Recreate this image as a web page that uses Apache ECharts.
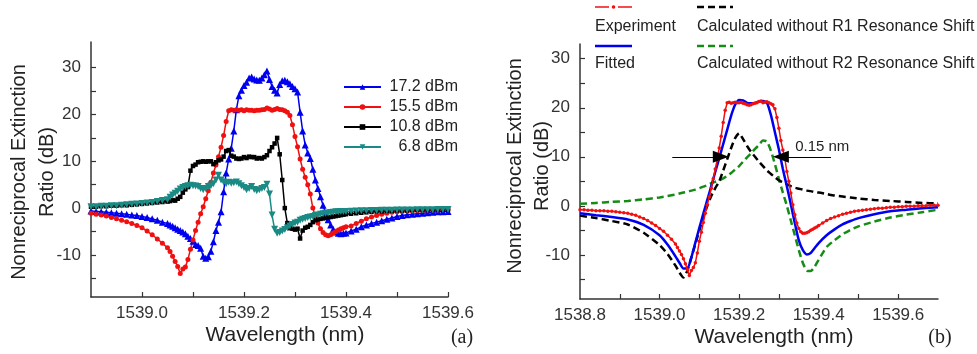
<!DOCTYPE html>
<html>
<head>
<meta charset="utf-8">
<script src="https://cdn.jsdelivr.net/npm/echarts@6/dist/echarts.min.js"></script>
<style>
  html, body { margin: 0; padding: 0; background: #fff; }
  #chart { width: 977px; height: 354px; }
</style>
</head>
<body>
<div id="chart"></div>
<script>
// ---- panel (a): measured ratio for four pump powers ----
const wlA = [
  1538.90, 1538.91, 1538.92, 1538.93, 1538.94, 1538.95, 1538.96, 1538.97, 1538.98, 1538.99,
  1539.00, 1539.01, 1539.02, 1539.03, 1539.04,
  1539.050, 1539.055, 1539.060, 1539.065, 1539.070, 1539.075, 1539.080, 1539.085, 1539.090, 1539.095,
  1539.100, 1539.105, 1539.110, 1539.115, 1539.120, 1539.125, 1539.130, 1539.135, 1539.140, 1539.145,
  1539.150, 1539.155, 1539.160, 1539.165, 1539.170, 1539.175, 1539.180, 1539.185, 1539.190, 1539.195,
  1539.200, 1539.205, 1539.210, 1539.215, 1539.220, 1539.225, 1539.230, 1539.235, 1539.240, 1539.245,
  1539.250, 1539.255, 1539.260, 1539.265, 1539.270, 1539.275, 1539.280, 1539.285, 1539.290, 1539.295,
  1539.300, 1539.305, 1539.310, 1539.315, 1539.320, 1539.325, 1539.330, 1539.335, 1539.340, 1539.345,
  1539.350, 1539.355, 1539.360, 1539.365, 1539.370, 1539.375, 1539.380, 1539.385, 1539.390, 1539.395,
  1539.400,
  1539.41, 1539.42, 1539.43, 1539.44, 1539.45, 1539.46, 1539.47, 1539.48, 1539.49, 1539.50,
  1539.51, 1539.52, 1539.53, 1539.54, 1539.55, 1539.56, 1539.57, 1539.58, 1539.59, 1539.60
];
const p172 = [
  -0.6, -0.7, -0.8, -0.9, -1.0, -1.1, -1.2, -1.3, -1.5, -1.6, -1.8, -2.0, -2.3, -2.6, -3.0,
  -3.3, -3.6, -3.9, -4.2, -4.5, -4.8, -5.1, -5.5, -6.0, -6.5,
  -7.1, -7.8, -8.0, -8.6, -10.3, -10.7, -10.4, -9.2, -7.2, -4.8,
  -3.0, -0.8, 3.5, 7.5, 10.5, 12.8, 16.5, 21.0, 24.0, 25.2,
  26.2, 26.9, 27.8, 28.0, 27.6, 27.4, 27.3, 27.8, 28.5, 29.3,
  27.5, 26.0, 25.2, 24.6, 26.4, 27.2, 27.3, 27.0, 26.6, 26.0,
  25.5, 24.8, 20.5, 16.5, 13.5, 11.8, 10.6, 8.3, 6.0, 4.2,
  2.4, 0.6, -1.1, -2.5, -3.6, -4.5, -5.1, -5.4, -5.5, -5.4,
  -5.3,
  -4.9, -4.5, -4.0, -3.6, -3.3, -3.0, -2.7, -2.4, -2.1, -1.8,
  -1.6, -1.4, -1.3, -1.2, -1.1, -1.0, -0.9, -0.8, -0.8, -0.7
];
const p155 = [
  -1.1, -1.3, -1.5, -1.7, -2.0, -2.3, -2.6, -2.9, -3.3, -3.7, -4.2, -4.9, -5.7, -6.6, -7.5,
  -8.5, -9.3, -10.3, -11.4, -12.5, -14.0, -13.0, -12.6, -11.0, -8.8,
  -6.8, -4.8, -3.0, -1.2, 0.3, 2.0, 3.7, 5.5, 7.5, 9.2,
  11.0, 13.0, 15.5, 18.5, 20.8, 21.0, 20.9, 21.0, 20.9, 21.0,
  20.8, 21.0, 20.9, 20.9, 20.8, 20.9, 20.9, 21.0, 21.1, 21.4,
  21.2, 20.9, 21.1, 21.3, 21.1, 21.0, 20.8, 20.5, 19.8, 17.8,
  15.3, 13.1, 10.5, 8.3, 6.6, 5.0, 3.0, 0.0, -1.8, -3.2,
  -4.4, -5.2, -5.7, -5.9, -5.7, -5.3, -5.0, -4.7, -4.4, -4.2,
  -4.0,
  -3.8, -3.3, -2.8, -2.3, -1.9, -1.6, -1.3, -1.1, -0.9, -0.8,
  -0.7, -0.6, -0.6, -0.5, -0.5, -0.4, -0.4, -0.4, -0.3, -0.3
];
const p108 = [
  0.3, 0.3, 0.4, 0.4, 0.5, 0.5, 0.6, 0.6, 0.7, 0.8, 0.9, 1.0, 1.1, 1.2, 1.3,
  1.4, 1.5, 1.7, 1.6, 2.0, 2.4, 3.3, 4.0, 4.5, 8.0,
  9.0, 9.3, 9.8, 9.9, 10.0, 9.9, 10.0, 10.0, 9.4, 9.8,
  10.2, 10.4, 11.0, 12.2, 12.4, 11.2, 11.0, 10.6, 10.5, 10.6,
  10.9, 10.7, 11.0, 10.9, 10.9, 10.6, 10.7, 10.6, 10.9, 11.3,
  12.2, 13.0, 13.8, 15.0, 11.5, 6.0, 0.0, -3.2, -4.3, -4.4,
  -4.6, -4.4, -6.5, -4.8, -4.2, -4.0, -3.6, -3.0, -2.6, -2.4,
  -2.3, -2.2, -2.1, -2.0, -1.9, -1.8, -1.7, -1.6, -1.5, -1.4,
  -1.3,
  -1.2, -1.1, -1.0, -0.9, -0.8, -0.7, -0.7, -0.6, -0.6, -0.5,
  -0.5, -0.5, -0.4, -0.4, -0.4, -0.4, -0.3, -0.3, -0.3, -0.3
];
const p68 = [
  0.3, 0.3, 0.4, 0.4, 0.5, 0.5, 0.6, 0.7, 0.8, 0.9, 1.0, 1.1, 1.2, 1.4, 1.6,
  1.8, 2.3, 2.8, 3.2, 3.6, 4.1, 4.4, 4.6, 4.8, 4.9,
  4.8, 4.7, 4.6, 4.2, 3.9, 4.2, 4.6, 4.8, 5.2, 6.0,
  7.0, 6.0, 5.6, 5.2, 5.5, 5.3, 5.4, 5.6, 5.2, 4.8,
  4.4, 3.9, 4.2, 4.6, 4.0, 3.7, 3.9, 4.2, 4.4, 5.1,
  3.0, -1.5, -4.5, -5.4, -5.2, -4.9, -4.6, -4.2, -3.8, -3.5,
  -3.2, -3.0, -2.6, -2.4, -2.2, -2.0, -1.9, -1.8, -1.6, -1.5,
  -1.3, -1.2, -1.1, -1.05, -0.95, -0.9, -0.8, -0.78, -0.75, -0.72,
  -0.7,
  -0.65, -0.6, -0.58, -0.55, -0.52, -0.5, -0.48, -0.46, -0.44, -0.42,
  -0.4, -0.4, -0.38, -0.36, -0.35, -0.34, -0.33, -0.32, -0.31, -0.3
];

// ---- panel (b): experiment vs. fitted / calculated ----
const wlB = [
  1538.80, 1538.81, 1538.82, 1538.83, 1538.84, 1538.85, 1538.86, 1538.87, 1538.88, 1538.89,
  1538.90, 1538.91, 1538.92, 1538.93, 1538.94, 1538.95, 1538.96, 1538.97, 1538.98, 1538.99,
  1539.00, 1539.01, 1539.02, 1539.03, 1539.04,
  1539.045, 1539.050, 1539.055, 1539.060, 1539.065, 1539.070, 1539.075, 1539.080, 1539.085, 1539.090, 1539.095,
  1539.100, 1539.105, 1539.110, 1539.115, 1539.120, 1539.125, 1539.130, 1539.135, 1539.140, 1539.145,
  1539.150, 1539.155, 1539.160, 1539.165, 1539.170, 1539.175, 1539.180, 1539.185, 1539.190, 1539.195,
  1539.200, 1539.205, 1539.210, 1539.215, 1539.220, 1539.225, 1539.230, 1539.235, 1539.240, 1539.245,
  1539.250, 1539.255, 1539.260, 1539.265, 1539.270, 1539.275, 1539.280, 1539.285, 1539.290, 1539.295,
  1539.300, 1539.305, 1539.310, 1539.315, 1539.320, 1539.325, 1539.330, 1539.335, 1539.340, 1539.345,
  1539.350, 1539.355, 1539.360, 1539.365, 1539.370, 1539.375, 1539.380, 1539.385, 1539.390, 1539.395,
  1539.400,
  1539.41, 1539.42, 1539.43, 1539.44, 1539.45, 1539.46, 1539.47, 1539.48, 1539.49, 1539.50,
  1539.51, 1539.52, 1539.53, 1539.54, 1539.55, 1539.56, 1539.57, 1539.58, 1539.59, 1539.60,
  1539.61, 1539.62, 1539.63, 1539.64, 1539.65, 1539.66, 1539.67, 1539.68, 1539.69, 1539.70
];
const experiment = [
  -0.8, -0.8, -0.9, -0.9, -1.0, -1.0, -1.0, -1.1, -1.1, -1.2,
  -1.3, -1.4, -1.5, -1.7, -1.9, -2.3, -2.6, -3.0, -3.5, -4.0,
  -4.6, -5.2, -6.0, -6.8, -7.8,
  -8.5, -9.2, -9.9, -10.8, -11.8, -13.0, -14.2, -13.2, -12.6, -11.6, -9.6,
  -7.2, -5.4, -3.4, -1.5, 0.2, 1.8, 3.6, 5.5, 7.5, 9.4,
  11.8, 14.2, 17.0, 19.5, 21.0, 21.1, 20.9, 21.0, 21.1, 21.0,
  21.0, 21.1, 20.9, 20.8, 20.6, 20.5, 20.6, 20.8, 20.9, 21.0,
  21.3, 21.4, 21.0, 21.1, 21.2, 21.0, 20.8, 20.6, 19.8, 18.0,
  15.8, 13.3, 11.4, 9.6, 7.0, 5.0, 2.6, 0.2, -1.8, -3.5,
  -4.6, -5.3, -5.6, -5.6, -5.5, -5.3, -5.0, -4.8, -4.5, -4.3,
  -4.0,
  -3.5, -3.0, -2.6, -2.3, -2.0, -1.7, -1.5, -1.3, -1.1, -1.0,
  -0.9, -0.8, -0.7, -0.6, -0.5, -0.5, -0.4, -0.3, -0.3, -0.2,
  -0.2, -0.1, -0.1, -0.1, 0.0, 0.0, 0.0, 0.1, 0.1, 0.1
];

const wlCalc = [
  1538.80, 1538.84, 1538.88, 1538.92, 1538.96, 1539.00, 1539.02, 1539.04,
  1539.05, 1539.06, 1539.07, 1539.08, 1539.09, 1539.10, 1539.11, 1539.12, 1539.13, 1539.14,
  1539.15, 1539.16, 1539.17, 1539.18, 1539.19, 1539.20, 1539.21, 1539.22, 1539.23, 1539.24,
  1539.25, 1539.26, 1539.27, 1539.28, 1539.29, 1539.30, 1539.31, 1539.32, 1539.33, 1539.34,
  1539.35, 1539.36, 1539.37, 1539.38, 1539.39, 1539.40,
  1539.42, 1539.44, 1539.46, 1539.48, 1539.50, 1539.54, 1539.58, 1539.62, 1539.66, 1539.70
];
const fitted = [
  -1.5, -1.9, -2.3, -2.8, -3.9, -6.0, -7.9, -10.3,
  -11.6, -12.8, -12.8, -10.5, -7.5, -4.5, -1.6, 1.2, 4.0, 6.9,
  9.7, 12.6, 15.5, 18.4, 20.6, 21.6, 21.5, 21.0, 20.9, 21.0,
  21.3, 21.4, 21.0, 18.5, 15.0, 11.5, 7.5, 4.0, 0.3, -3.5,
  -7.0, -9.0, -9.9, -9.6, -8.6, -7.6,
  -6.0, -4.8, -3.8, -3.1, -2.5, -1.7, -1.1, -0.8, -0.5, -0.3
];
const noR1 = [
  -2.0, -2.5, -3.1, -3.8, -5.5, -8.0, -9.8, -12.2,
  -13.6, -14.6, -13.2, -10.5, -7.8, -5.0, -2.3, 0.0, 2.0, 3.6,
  5.0, 7.2, 9.5, 11.8, 13.8, 14.8, 13.6, 12.2, 11.0, 10.0,
  9.0, 8.1, 7.2, 6.5, 5.8, 5.2, 4.8, 4.4, 4.0, 3.7,
  3.5, 3.3, 3.1, 3.0, 2.8, 2.7,
  2.4, 2.1, 1.9, 1.7, 1.5, 1.2, 1.0, 0.8, 0.6, 0.5
];
const noR2 = [
  0.4, 0.6, 0.8, 1.0, 1.3, 1.7, 2.0, 2.3,
  2.5, 2.7, 2.9, 3.1, 3.3, 3.6, 3.9, 4.2, 4.6, 4.9,
  5.2, 5.6, 6.1, 6.7, 7.4, 8.1, 9.0, 9.9, 10.7, 11.6,
  12.4, 13.3, 13.1, 11.2, 8.5, 5.5, 2.7, 0.0, -3.0, -6.0,
  -9.0, -11.6, -13.2, -13.3, -12.4, -11.0,
  -8.4, -7.0, -5.8, -4.9, -4.2, -3.2, -2.4, -1.8, -1.3, -0.8
];

// axis ticks and labels
const ticksA = [1539.0, 1539.1, 1539.2, 1539.3, 1539.4, 1539.5, 1539.6];
const labelsA = [1539.0, 1539.2, 1539.4, 1539.6];
const ticksB = [1538.9, 1539.0, 1539.1, 1539.2, 1539.3, 1539.4, 1539.5, 1539.6];
const labelsB = [1538.8, 1539.0, 1539.2, 1539.4, 1539.6];
const yTicks = [-15, -10, -5, 0, 5, 10, 15, 20, 25, 30];
const yLabels = [-10, 0, 10, 20, 30];

// 0.15 nm width arrows (data coordinates)
const arrowLeft = [[1539.032, 10], [1539.154, 10]];
const arrowRight = [[1539.305, 10], [1539.431, 10]];
const widthLabel = [1539.409, 12.0];

const FONT = "'Liberation Sans', Arial, sans-serif";
const SERIF = "'Liberation Serif', 'Times New Roman', serif";
const TXT = '#222';

const pairs = (xs, ys) => xs.map((x, i) => [x, ys[i]]);

function xAxisCfg(grid, min, max, ticks, labels) {
  return {
    gridIndex: grid, type: 'value', min: min, max: max,
    axisLine: { show: true, onZero: false, lineStyle: { color: '#333', width: 1.5 } },
    axisTick: { show: true, inside: true, length: 5, customValues: ticks, lineStyle: { color: '#333', width: 1.2 } },
    axisLabel: { customValues: labels, formatter: v => v.toFixed(1), fontSize: 17, color: '#333', fontFamily: FONT, margin: 8 },
    splitLine: { show: false }
  };
}
function yAxisCfg(grid, min, max) {
  return {
    gridIndex: grid, type: 'value', min: min, max: max,
    axisLine: { show: true, onZero: false, lineStyle: { color: '#333', width: 1.5 } },
    axisTick: { show: true, inside: true, length: 5, customValues: yTicks, lineStyle: { color: '#333', width: 1.2 } },
    axisLabel: { customValues: yLabels, fontSize: 17, color: '#333', fontFamily: FONT, margin: 10 },
    splitLine: { show: false }
  };
}

function text(x, y, str, opts) {
  return Object.assign({
    type: 'text', x: x, y: y,
    style: Object.assign({
      text: str, fill: TXT, font: '20px ' + FONT,
      align: 'center', verticalAlign: 'middle',
      textAlign: 'center', textVerticalAlign: 'middle'
    }, (opts && opts.style) || {})
  }, (opts && opts.el) || {});
}
function line(x1, y1, x2, y2, color, width, dash) {
  return {
    type: 'line', shape: { x1: x1, y1: y1, x2: x2, y2: y2 },
    style: { stroke: color, lineWidth: width, lineDash: dash || null }
  };
}

const chart = echarts.init(document.getElementById('chart'));

const option = {
  animation: false,
  backgroundColor: '#fff',
  grid: [
    { left: 91, top: 42, width: 357, height: 255 },
    { left: 580, top: 44, width: 358, height: 255 }
  ],
  xAxis: [
    xAxisCfg(0, 1538.9, 1539.6, ticksA, labelsA),
    xAxisCfg(1, 1538.8, 1539.7, ticksB, labelsB)
  ],
  yAxis: [
    yAxisCfg(0, -19, 35.5),
    yAxisCfg(1, -19, 33)
  ],
  legend: {
    data: ['17.2 dBm', '15.5 dBm', '10.8 dBm', '6.8 dBm'],
    orient: 'vertical', left: 343, top: 79, padding: 0,
    itemWidth: 37, itemHeight: 7, itemGap: 4,
    formatter: n => '{r|' + n + '}',
    textStyle: {
      fontSize: 16, color: TXT, fontFamily: FONT,
      rich: { r: { width: 72, align: 'right', fontSize: 16, fontFamily: FONT, color: TXT } }
    }
  },
  series: [
    {
      name: '17.2 dBm', type: 'line', xAxisIndex: 0, yAxisIndex: 0,
      data: pairs(wlA, p172), symbol: 'triangle', symbolSize: 7,
      lineStyle: { color: '#0000f0', width: 1.5 }, itemStyle: { color: '#0000f0' }
    },
    {
      name: '15.5 dBm', type: 'line', xAxisIndex: 0, yAxisIndex: 0,
      data: pairs(wlA, p155), symbol: 'circle', symbolSize: 5,
      lineStyle: { color: '#f01010', width: 1.5 }, itemStyle: { color: '#f01010' }
    },
    {
      name: '10.8 dBm', type: 'line', xAxisIndex: 0, yAxisIndex: 0,
      data: pairs(wlA, p108), symbol: 'rect', symbolSize: 4.5,
      lineStyle: { color: '#000', width: 1.5 }, itemStyle: { color: '#000' }
    },
    {
      name: '6.8 dBm', type: 'line', xAxisIndex: 0, yAxisIndex: 0,
      data: pairs(wlA, p68), symbol: 'triangle', symbolRotate: 180, symbolSize: 7,
      lineStyle: { color: '#1b8a84', width: 1.5 }, itemStyle: { color: '#1b8a84' }
    },
    {
      name: 'Calculated without R2 Resonance Shift', type: 'line', xAxisIndex: 1, yAxisIndex: 1,
      data: pairs(wlCalc, noR2), showSymbol: false, smooth: 0.2,
      lineStyle: { color: '#168c16', width: 2.5, type: [7, 4] }
    },
    {
      name: 'Calculated without R1 Resonance Shift', type: 'line', xAxisIndex: 1, yAxisIndex: 1,
      data: pairs(wlCalc, noR1), showSymbol: false, smooth: 0.2,
      lineStyle: { color: '#000', width: 2.5, type: [7, 4] }
    },
    {
      name: 'Fitted', type: 'line', xAxisIndex: 1, yAxisIndex: 1,
      data: pairs(wlCalc, fitted), showSymbol: false, smooth: 0.2,
      lineStyle: { color: '#0000f0', width: 2.5 }
    },
    {
      name: 'Experiment', type: 'line', xAxisIndex: 1, yAxisIndex: 1,
      data: pairs(wlB, experiment), symbol: 'circle', symbolSize: 3.5,
      lineStyle: { color: '#f01010', width: 1.5 }, itemStyle: { color: '#f01010' },
      markLine: {
        silent: true, symbolSize: [12, 16],
        lineStyle: { color: '#000', width: 1.2, type: 'solid' },
        label: { show: false },
        data: [
          [{ coord: arrowLeft[0], symbol: 'none' }, { coord: arrowLeft[1], symbol: 'triangle' }],
          [{ coord: arrowRight[0], symbol: 'triangle' }, { coord: arrowRight[1], symbol: 'none' }]
        ]
      },
      markPoint: {
        silent: true, symbol: 'circle', symbolSize: 1,
        itemStyle: { color: 'rgba(0,0,0,0)' },
        label: { show: true, position: 'inside', formatter: '0.15 nm', fontSize: 15, color: TXT, fontFamily: FONT },
        data: [{ coord: widthLabel }]
      }
    }
  ],
  graphic: [
    // axis titles, panel (a)
    text(19, 172, 'Nonreciprocal Extinction', { el: { rotation: Math.PI / 2 } }),
    text(47, 172, 'Ratio (dB)', { el: { rotation: Math.PI / 2 } }),
    text(285, 335, 'Wavelength (nm)', { style: { font: '21px ' + FONT } }),
    text(462, 338, '(a)', { style: { font: '20px ' + SERIF } }),
    // axis titles, panel (b)
    text(515, 166, 'Nonreciprocal Extinction', { el: { rotation: Math.PI / 2 } }),
    text(542, 166, 'Ratio (dB)', { el: { rotation: Math.PI / 2 } }),
    text(774, 337, 'Wavelength (nm)', { style: { font: '21px ' + FONT } }),
    text(940, 338, '(b)', { style: { font: '20px ' + SERIF } }),
    // legend, panel (b)
    line(595, 7, 609, 7, '#f01010', 1.5),
    line(618, 7, 632, 7, '#f01010', 1.5),
    { type: 'circle', shape: { cx: 613.5, cy: 7, r: 1.8 }, style: { fill: '#f01010' } },
    text(595, 27, 'Experiment', { style: { font: '16px ' + FONT, align: 'left', textAlign: 'left' } }),
    line(697, 7, 733, 7, '#000', 2.5, [7, 4]),
    text(697, 27, 'Calculated without R1 Resonance Shift', { style: { font: '16px ' + FONT, align: 'left', textAlign: 'left' } }),
    line(595, 46, 632, 46, '#0000f0', 2.5),
    text(595, 64, 'Fitted', { style: { font: '16px ' + FONT, align: 'left', textAlign: 'left' } }),
    line(697, 46, 733, 46, '#168c16', 2.5, [7, 4]),
    text(697, 64, 'Calculated without R2 Resonance Shift', { style: { font: '16px ' + FONT, align: 'left', textAlign: 'left' } })
  ]
};

chart.setOption(option);
</script>
</body>
</html>
